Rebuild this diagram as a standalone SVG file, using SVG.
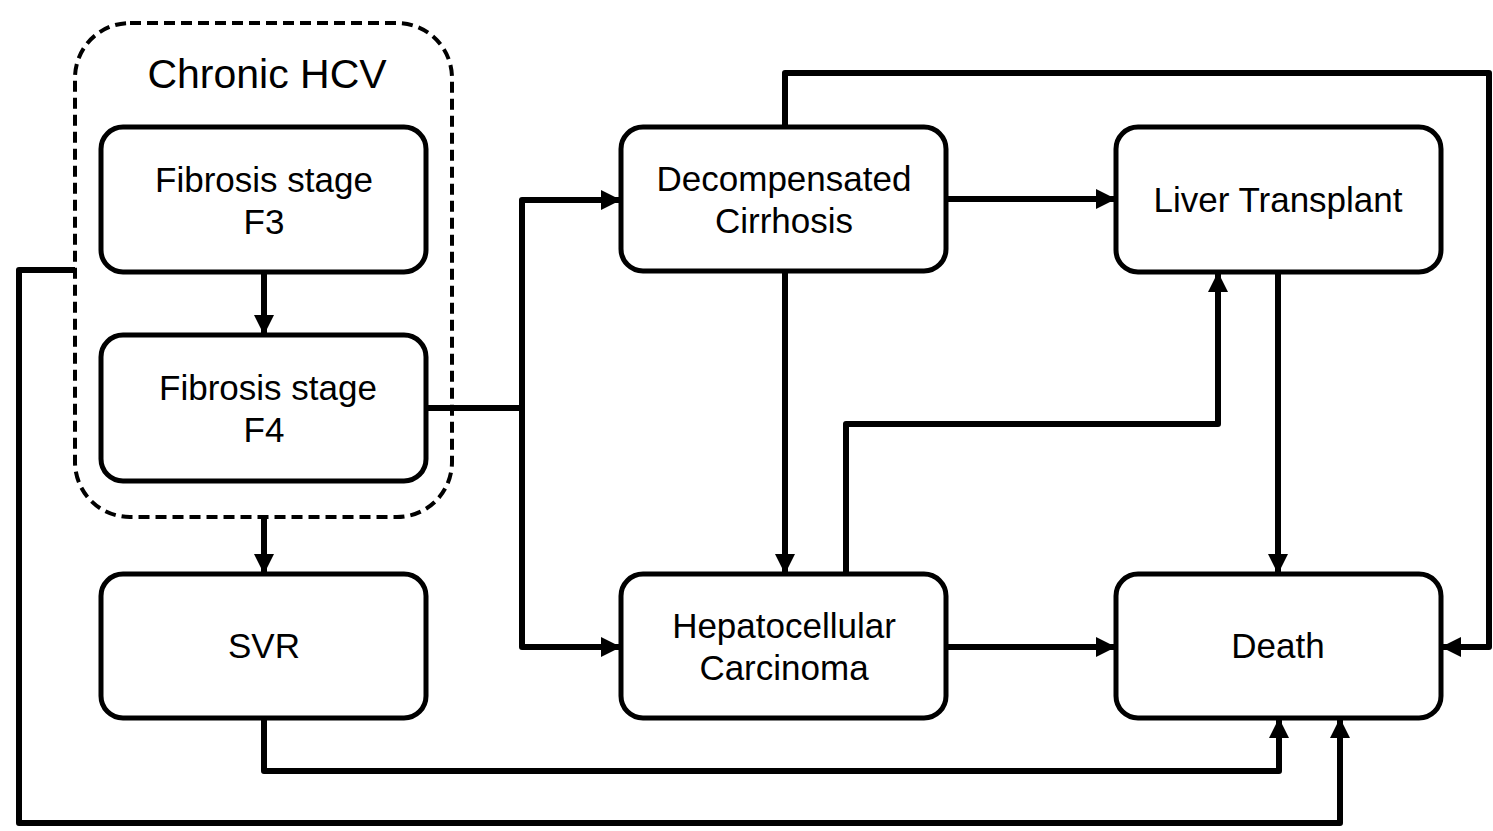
<svg xmlns="http://www.w3.org/2000/svg" width="1493" height="831" viewBox="0 0 1493 831">
  <style>
    .node { fill: #ffffff; stroke: #000000; stroke-width: 5; }
    .group { fill: none; stroke: #000000; stroke-width: 4; stroke-dasharray: 11 6; }
    .label { font-family: "Liberation Sans", Arial, sans-serif; font-size: 35px; fill: #000000; text-anchor: middle; }
    .title { font-family: "Liberation Sans", Arial, sans-serif; font-size: 41px; fill: #000000; text-anchor: middle; }
    .edge { fill: none; stroke: #000000; stroke-width: 6; stroke-linejoin: round; }
    .arrow { fill: none; stroke: #000000; stroke-width: 6; stroke-linejoin: round; marker-end: url(#ah); }
  </style>
  <defs>
    <marker id="ah" markerUnits="userSpaceOnUse" markerWidth="20" markerHeight="20" refX="20" refY="10" orient="auto" viewBox="0 0 20 20">
      <path d="M0,0 L20,10 L0,20 z" fill="#000000"/>
    </marker>
  </defs>
  <rect width="1493" height="831" fill="#ffffff"/>

  <g id="chronic-hcv">
    <rect class="group" x="75" y="23" width="377" height="494" rx="55" ry="55"/>
    <text class="title" x="267" y="88">Chronic HCV</text>
  </g>

  <g id="connectors">
    <path class="arrow" d="M264,272 L264,335"/>
    <path class="arrow" d="M264,517 L264,574"/>
    <path class="edge" d="M426,408 L522,408"/>
    <path class="arrow" d="M522,408 L522,200 L621,200"/>
    <path class="arrow" d="M522,408 L522,647 L621,647"/>
    <path class="arrow" d="M946,199 L1116,199"/>
    <path class="arrow" d="M785,271 L785,574"/>
    <path class="arrow" d="M785,127 L785,73 L1489,73 L1489,647 L1441,647"/>
    <path class="arrow" d="M846,574 L846,424 L1218,424 L1218,272"/>
    <path class="arrow" d="M1278,272 L1278,574"/>
    <path class="arrow" d="M946,647 L1116,647"/>
    <path class="arrow" d="M264,718 L264,771 L1279,771 L1279,718"/>
    <path class="arrow" d="M75,270 L19,270 L19,823 L1340,823 L1340,718"/>
  </g>

  <g id="f3">
    <rect class="node" x="101" y="127" width="325" height="145" rx="22" ry="22"/>
    <text class="label" x="264" y="192">Fibrosis stage</text>
    <text class="label" x="264" y="234">F3</text>
  </g>
  <g id="f4">
    <rect class="node" x="101" y="335" width="325" height="146" rx="22" ry="22"/>
    <text class="label" x="268" y="400">Fibrosis stage</text>
    <text class="label" x="264" y="442">F4</text>
  </g>
  <g id="svr">
    <rect class="node" x="101" y="574" width="325" height="144" rx="22" ry="22"/>
    <text class="label" x="264" y="658">SVR</text>
  </g>
  <g id="decompensated">
    <rect class="node" x="621" y="127" width="325" height="144" rx="22" ry="22"/>
    <text class="label" x="784" y="191">Decompensated</text>
    <text class="label" x="784" y="233">Cirrhosis</text>
  </g>
  <g id="liver-transplant">
    <rect class="node" x="1116" y="127" width="325" height="145" rx="22" ry="22"/>
    <text class="label" x="1278" y="212">Liver Transplant</text>
  </g>
  <g id="hcc">
    <rect class="node" x="621" y="574" width="325" height="144" rx="22" ry="22"/>
    <text class="label" x="784" y="638">Hepatocellular</text>
    <text class="label" x="784" y="680">Carcinoma</text>
  </g>
  <g id="death">
    <rect class="node" x="1116" y="574" width="325" height="144" rx="22" ry="22"/>
    <text class="label" x="1278" y="658">Death</text>
  </g>
</svg>
